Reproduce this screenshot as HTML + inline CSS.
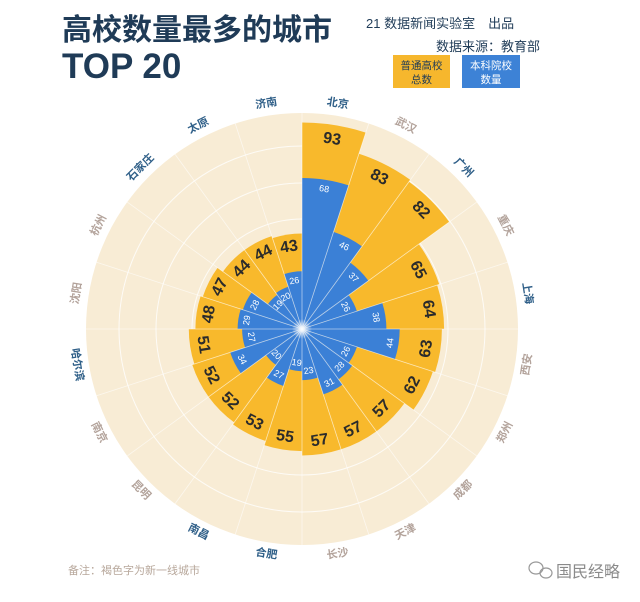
<!DOCTYPE html>
<html><head><meta charset="utf-8"><style>
html,body{margin:0;padding:0;background:#fff;}
body{width:640px;height:597px;overflow:hidden;font-family:"Liberation Sans","Noto Sans CJK SC",sans-serif;}
</style></head><body>
<svg width="640" height="597" viewBox="0 0 640 597" xmlns="http://www.w3.org/2000/svg" font-family="Liberation Sans, Noto Sans CJK SC, sans-serif">
<defs>
<path id="w" d="M0 0 L-0.1564 -0.9877 A1 1 0 0 1 0.1564 -0.9877 Z"/>
<radialGradient id="glow"><stop offset="0" stop-color="#fff" stop-opacity="1"/><stop offset="1" stop-color="#fff" stop-opacity="0"/></radialGradient>
</defs>
<!-- title -->
<text x="62" y="40" font-size="30" font-weight="bold" fill="#1f3b57">高校数量最多的城市</text>
<text x="62" y="78" font-size="35" font-weight="bold" fill="#1f3b57">TOP 20</text>
<text x="366" y="28" font-size="13" fill="#1f3b57">21 数据新闻实验室　出品</text>
<text x="540" y="51" font-size="13" fill="#1f3b57" text-anchor="end">数据来源：教育部</text>
<rect x="393" y="55" width="57" height="33" fill="#f6b72d"/>
<text x="421.5" y="69" font-size="10.5" fill="#1f3b57" text-anchor="middle">普通高校</text>
<text x="421.5" y="83" font-size="10.5" fill="#1f3b57" text-anchor="middle">总数</text>
<rect x="462" y="55" width="58" height="33" fill="#3d82d6"/>
<text x="491" y="69" font-size="10.5" fill="#fff" text-anchor="middle">本科院校</text>
<text x="491" y="83" font-size="10.5" fill="#fff" text-anchor="middle">数量</text>

<!-- background -->
<circle cx="302" cy="329" r="216" fill="#f8ecd5"/>
<g fill="none" stroke="#fff" stroke-width="1" opacity="0.8">
<circle cx="302" cy="329" r="183"/><circle cx="302" cy="329" r="146"/><circle cx="302" cy="329" r="110"/>
</g>

<!-- yellow bars -->
<g fill="#f8b92c">
<use href="#w" transform="translate(302,329) rotate(9) scale(206.5)"/>
<use href="#w" transform="translate(302,329) rotate(27) scale(184.3)"/>
<use href="#w" transform="translate(302,329) rotate(45) scale(182)"/>
<use href="#w" transform="translate(302,329) rotate(63) scale(144.3)"/>
<use href="#w" transform="translate(302,329) rotate(81) scale(142.1)"/>
<use href="#w" transform="translate(302,329) rotate(99) scale(139.9)"/>
<use href="#w" transform="translate(302,329) rotate(117) scale(137.6)"/>
<use href="#w" transform="translate(302,329) rotate(135) scale(126.5)"/>
<use href="#w" transform="translate(302,329) rotate(153) scale(126.5)"/>
<use href="#w" transform="translate(302,329) rotate(171) scale(126.5)"/>
<use href="#w" transform="translate(302,329) rotate(189) scale(122.1)"/>
<use href="#w" transform="translate(302,329) rotate(207) scale(117.7)"/>
<use href="#w" transform="translate(302,329) rotate(225) scale(115.4)"/>
<use href="#w" transform="translate(302,329) rotate(243) scale(115.4)"/>
<use href="#w" transform="translate(302,329) rotate(261) scale(113.2)"/>
<use href="#w" transform="translate(302,329) rotate(279) scale(106.6)"/>
<use href="#w" transform="translate(302,329) rotate(297) scale(104.3)"/>
<use href="#w" transform="translate(302,329) rotate(315) scale(97.7)"/>
<use href="#w" transform="translate(302,329) rotate(333) scale(97.7)"/>
<use href="#w" transform="translate(302,329) rotate(351) scale(95.5)"/>
</g>
<!-- blue bars -->
<g fill="#3b80d6">
<use href="#w" transform="translate(302,329) rotate(9) scale(151)"/>
<use href="#w" transform="translate(302,329) rotate(27) scale(102.1)"/>
<use href="#w" transform="translate(302,329) rotate(45) scale(82.1)"/>
<use href="#w" transform="translate(302,329) rotate(63) scale(57.7)"/>
<use href="#w" transform="translate(302,329) rotate(81) scale(84.4)"/>
<use href="#w" transform="translate(302,329) rotate(99) scale(97.7)"/>
<use href="#w" transform="translate(302,329) rotate(117) scale(57.7)"/>
<use href="#w" transform="translate(302,329) rotate(135) scale(62.2)"/>
<use href="#w" transform="translate(302,329) rotate(153) scale(68.8)"/>
<use href="#w" transform="translate(302,329) rotate(171) scale(51.1)"/>
<use href="#w" transform="translate(302,329) rotate(189) scale(42.2)"/>
<use href="#w" transform="translate(302,329) rotate(207) scale(59.9)"/>
<use href="#w" transform="translate(302,329) rotate(225) scale(44.4)"/>
<use href="#w" transform="translate(302,329) rotate(243) scale(75.5)"/>
<use href="#w" transform="translate(302,329) rotate(261) scale(59.9)"/>
<use href="#w" transform="translate(302,329) rotate(279) scale(64.4)"/>
<use href="#w" transform="translate(302,329) rotate(297) scale(62.2)"/>
<use href="#w" transform="translate(302,329) rotate(315) scale(42.2)"/>
<use href="#w" transform="translate(302,329) rotate(333) scale(44.4)"/>
<use href="#w" transform="translate(302,329) rotate(351) scale(57.7)"/>
</g>
<!-- separators -->
<g stroke="#fff" stroke-width="0.8" opacity="0.6" transform="translate(302,329)">
<line x1="0" y1="0" x2="0" y2="-216" transform="rotate(0)"/><line x1="0" y1="0" x2="0" y2="-216" transform="rotate(18)"/><line x1="0" y1="0" x2="0" y2="-216" transform="rotate(36)"/><line x1="0" y1="0" x2="0" y2="-216" transform="rotate(54)"/><line x1="0" y1="0" x2="0" y2="-216" transform="rotate(72)"/><line x1="0" y1="0" x2="0" y2="-216" transform="rotate(90)"/><line x1="0" y1="0" x2="0" y2="-216" transform="rotate(108)"/><line x1="0" y1="0" x2="0" y2="-216" transform="rotate(126)"/><line x1="0" y1="0" x2="0" y2="-216" transform="rotate(144)"/><line x1="0" y1="0" x2="0" y2="-216" transform="rotate(162)"/><line x1="0" y1="0" x2="0" y2="-216" transform="rotate(180)"/><line x1="0" y1="0" x2="0" y2="-216" transform="rotate(198)"/><line x1="0" y1="0" x2="0" y2="-216" transform="rotate(216)"/><line x1="0" y1="0" x2="0" y2="-216" transform="rotate(234)"/><line x1="0" y1="0" x2="0" y2="-216" transform="rotate(252)"/><line x1="0" y1="0" x2="0" y2="-216" transform="rotate(270)"/><line x1="0" y1="0" x2="0" y2="-216" transform="rotate(288)"/><line x1="0" y1="0" x2="0" y2="-216" transform="rotate(306)"/><line x1="0" y1="0" x2="0" y2="-216" transform="rotate(324)"/><line x1="0" y1="0" x2="0" y2="-216" transform="rotate(342)"/>
</g>
<circle cx="302" cy="329" r="10" fill="url(#glow)"/>

<!-- yellow labels -->
<g font-size="16" font-weight="bold" fill="#2b2b2b" text-anchor="middle" dominant-baseline="central">
<text transform="translate(302,329) rotate(9) translate(0,-192)">93</text>
<text transform="translate(302,329) rotate(27) translate(0,-170)">83</text>
<text transform="translate(302,329) rotate(45) translate(0,-168)">82</text>
<text transform="translate(302,329) rotate(63) translate(0,-130)">65</text>
<text transform="translate(302,329) rotate(81) translate(0,-128)">64</text>
<text transform="translate(302,329) rotate(99) translate(0,-126) rotate(180)">63</text>
<text transform="translate(302,329) rotate(117) translate(0,-124) rotate(180)">62</text>
<text transform="translate(302,329) rotate(135) translate(0,-113) rotate(180)">57</text>
<text transform="translate(302,329) rotate(153) translate(0,-113) rotate(180)">57</text>
<text transform="translate(302,329) rotate(171) translate(0,-113) rotate(180)">57</text>
<text transform="translate(302,329) rotate(189) translate(0,-109) rotate(180)">55</text>
<text transform="translate(302,329) rotate(207) translate(0,-105) rotate(180)">53</text>
<text transform="translate(302,329) rotate(225) translate(0,-102) rotate(180)">52</text>
<text transform="translate(302,329) rotate(243) translate(0,-102) rotate(180)">52</text>
<text transform="translate(302,329) rotate(261) translate(0,-100) rotate(180)">51</text>
<text transform="translate(302,329) rotate(279) translate(0,-94)">48</text>
<text transform="translate(302,329) rotate(297) translate(0,-92)">47</text>
<text transform="translate(302,329) rotate(315) translate(0,-85)">44</text>
<text transform="translate(302,329) rotate(333) translate(0,-85)">44</text>
<text transform="translate(302,329) rotate(351) translate(0,-83)">43</text>
</g>
<!-- blue labels -->
<g font-size="9" fill="#fff" text-anchor="middle" dominant-baseline="central">
<text transform="translate(302,329) rotate(9) translate(0,-142)">68</text>
<text transform="translate(302,329) rotate(27) translate(0,-93)">46</text>
<text transform="translate(302,329) rotate(45) translate(0,-73)">37</text>
<text transform="translate(302,329) rotate(63) translate(0,-49)">26</text>
<text transform="translate(302,329) rotate(81) translate(0,-75)">38</text>
<text transform="translate(302,329) rotate(99) translate(0,-89) rotate(180)">44</text>
<text transform="translate(302,329) rotate(117) translate(0,-49) rotate(180)">26</text>
<text transform="translate(302,329) rotate(135) translate(0,-53) rotate(180)">28</text>
<text transform="translate(302,329) rotate(153) translate(0,-60) rotate(180)">31</text>
<text transform="translate(302,329) rotate(171) translate(0,-42) rotate(180)">23</text>
<text transform="translate(302,329) rotate(189) translate(0,-34) rotate(180)">19</text>
<text transform="translate(302,329) rotate(207) translate(0,-51) rotate(180)">27</text>
<text transform="translate(302,329) rotate(225) translate(0,-36) rotate(180)">20</text>
<text transform="translate(302,329) rotate(243) translate(0,-67) rotate(180)">34</text>
<text transform="translate(302,329) rotate(261) translate(0,-51) rotate(180)">27</text>
<text transform="translate(302,329) rotate(279) translate(0,-56)">29</text>
<text transform="translate(302,329) rotate(297) translate(0,-53)">28</text>
<text transform="translate(302,329) rotate(315) translate(0,-34)">19</text>
<text transform="translate(302,329) rotate(333) translate(0,-36)">20</text>
<text transform="translate(302,329) rotate(351) translate(0,-49)">26</text>
</g>
<!-- city labels -->
<g font-size="11" font-weight="bold" text-anchor="middle" dominant-baseline="central">
<text fill="#2f5f88" transform="translate(302,329) rotate(9) translate(0,-228)">北京</text>
<text fill="#b3a39b" transform="translate(302,329) rotate(27) translate(0,-228)">武汉</text>
<text fill="#2f5f88" transform="translate(302,329) rotate(45) translate(0,-228)">广州</text>
<text fill="#b3a39b" transform="translate(302,329) rotate(63) translate(0,-228)">重庆</text>
<text fill="#2f5f88" transform="translate(302,329) rotate(81) translate(0,-228)">上海</text>
<text fill="#b3a39b" transform="translate(302,329) rotate(99) translate(0,-228) rotate(180)">西安</text>
<text fill="#b3a39b" transform="translate(302,329) rotate(117) translate(0,-228) rotate(180)">郑州</text>
<text fill="#b3a39b" transform="translate(302,329) rotate(135) translate(0,-228) rotate(180)">成都</text>
<text fill="#b3a39b" transform="translate(302,329) rotate(153) translate(0,-228) rotate(180)">天津</text>
<text fill="#b3a39b" transform="translate(302,329) rotate(171) translate(0,-228) rotate(180)">长沙</text>
<text fill="#2f5f88" transform="translate(302,329) rotate(189) translate(0,-228) rotate(180)">合肥</text>
<text fill="#2f5f88" transform="translate(302,329) rotate(207) translate(0,-228) rotate(180)">南昌</text>
<text fill="#b3a39b" transform="translate(302,329) rotate(225) translate(0,-228) rotate(180)">昆明</text>
<text fill="#b3a39b" transform="translate(302,329) rotate(243) translate(0,-228) rotate(180)">南京</text>
<text fill="#2f5f88" transform="translate(302,329) rotate(261) translate(0,-228) rotate(180)">哈尔滨</text>
<text fill="#b3a39b" transform="translate(302,329) rotate(279) translate(0,-228)">沈阳</text>
<text fill="#b3a39b" transform="translate(302,329) rotate(297) translate(0,-228)">杭州</text>
<text fill="#2f5f88" transform="translate(302,329) rotate(315) translate(0,-228)">石家庄</text>
<text fill="#2f5f88" transform="translate(302,329) rotate(333) translate(0,-228)">太原</text>
<text fill="#2f5f88" transform="translate(302,329) rotate(351) translate(0,-228)">济南</text>
</g>
<!-- footer -->
<text x="68" y="574" font-size="11" fill="#b8a89c">备注：褐色字为新一线城市</text>
<g fill="none" stroke="#999" stroke-width="1.2">
<ellipse cx="536" cy="568" rx="7" ry="6"/><ellipse cx="546" cy="573" rx="6" ry="5"/>
</g>
<text x="556" y="577" font-size="16" fill="#8a8a8a">国民经略</text>
</svg>
</body></html>
